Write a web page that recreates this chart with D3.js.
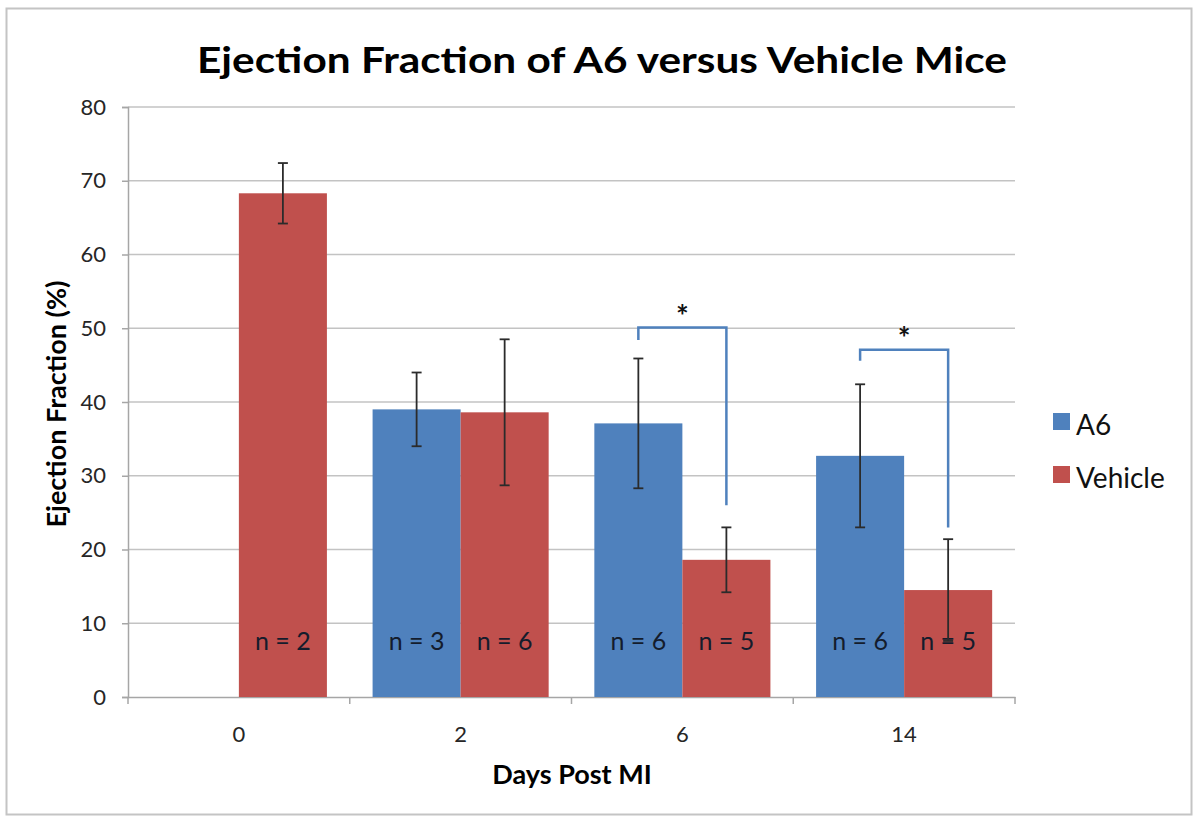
<!doctype html>
<html lang="en">
  <head>
    <meta charset="utf-8">
    <title>Ejection Fraction of A6 versus Vehicle Mice</title>
    <style>
      body{margin:0;background:#fff;}
      svg text{font-family: Lato, "Open Sans", Arial, sans-serif;}
    </style>
  </head>
  <body>
    <div class="holder"></div>
    <script src="https://cdn.jsdelivr.net/npm/d3@7"></script>
    <script>

      // ---- data ----
      var days     = ["0", "2", "6", "14"];
      var series   = ["A6", "Vehicle"];
      var a6Mean   = [null, 39.0, 37.1, 32.7];
      var a6Err    = [null, 5.0, 8.8, 9.7];
      var a6N      = [null, 3, 6, 6];
      var vehMean  = [68.3, 38.6, 18.6, 14.5];
      var vehErr   = [4.1, 9.9, 4.4, 6.9];
      var vehN     = [2, 6, 5, 5];
      var yTicks   = [0, 10, 20, 30, 40, 50, 60, 70, 80];

      // significance brackets (value units)
      var sigDays      = ["6", "14"];
      var sigTop       = [50.1, 47.1];
      var sigLeftEnd   = [48.4, 45.6];
      var sigRightEnd  = [26.0, 23.0];

      var colors = {A6: "#4f81bd", Vehicle: "#c0504d"};

      var W = 1200, H = 824;

      var svg = d3.select(".holder")
          .append("svg")
          .attr("width", W)
          .attr("height", H);

      svg.append("rect")
          .attr("width", W).attr("height", H)
          .attr("fill", "#fff");

      // chart frame
      svg.append("rect")
          .attr("x", 6.5).attr("y", 8.5)
          .attr("width", 1185).attr("height", 806)
          .attr("fill", "none")
          .attr("stroke", "#c4c4c4")
          .attr("stroke-width", 2);

      var x = d3.scaleBand().domain(days).range([128, 1015]);
      var y = d3.scaleLinear().domain([0, 80]).range([697, 107]);
      var barW = x.bandwidth() * 0.397;

      // gridlines
      svg.append("g").selectAll("line")
          .data(yTicks.slice(1))
          .enter().append("line")
          .attr("x1", 128).attr("x2", 1015)
          .attr("y1", function(d){ return y(d); })
          .attr("y2", function(d){ return y(d); })
          .attr("stroke", "#c3c3c3")
          .attr("stroke-width", 1.5);

      // y axis
      var yAxis = svg.append("g")
          .attr("transform", "translate(128,0)")
          .call(d3.axisLeft(y).tickValues(yTicks).tickSize(6).tickPadding(16));
      yAxis.select(".domain").attr("stroke", "#a6a6a6").attr("stroke-width", 1.5);
      yAxis.selectAll(".tick line").attr("stroke", "#a6a6a6").attr("stroke-width", 1.5);
      yAxis.selectAll(".tick text")
          .attr("font-family", "Lato, sans-serif")
          .attr("font-size", 22)
          .attr("fill", "#262626");

      // x axis
      var xAxis = svg.append("g")
          .attr("transform", "translate(0,697)")
          .call(d3.axisBottom(x).tickSize(0).tickPadding(29));
      xAxis.select(".domain").attr("stroke", "#a6a6a6").attr("stroke-width", 1.5);
      xAxis.selectAll(".tick text")
          .attr("font-family", "Lato, sans-serif")
          .attr("font-size", 22)
          .attr("fill", "#262626");
      // tick marks sit on the category boundaries
      svg.append("g").selectAll("line")
          .data(days.concat(["end"]))
          .enter().append("line")
          .attr("x1", function(d, i){ return i < days.length ? x(d) : x(days[days.length-1]) + x.bandwidth(); })
          .attr("x2", function(d, i){ return i < days.length ? x(d) : x(days[days.length-1]) + x.bandwidth(); })
          .attr("y1", 697).attr("y2", 704)
          .attr("stroke", "#a6a6a6")
          .attr("stroke-width", 1.5);

      // bars as flat records
      var bars = [];
      days.forEach(function(d, i){
        if (a6Mean[i] != null) bars.push({day: d, s: "A6", v: a6Mean[i], e: a6Err[i], n: a6N[i], off: x.bandwidth()/2 - barW});
        if (vehMean[i] != null) bars.push({day: d, s: "Vehicle", v: vehMean[i], e: vehErr[i], n: vehN[i], off: x.bandwidth()/2});
      });

      svg.append("g").selectAll("rect")
          .data(bars)
          .enter().append("rect")
          .attr("x", function(d){ return x(d.day) + d.off; })
          .attr("y", function(d){ return y(d.v); })
          .attr("width", barW)
          .attr("height", function(d){ return y(0) - y(d.v); })
          .attr("fill", function(d){ return colors[d.s]; });

      // n labels
      svg.append("g").selectAll("text")
          .data(bars)
          .enter().append("text")
          .attr("x", function(d){ return x(d.day) + d.off + barW/2; })
          .attr("y", y(0) - 47)
          .attr("text-anchor", "middle")
          .attr("font-size", 25)
          .attr("fill", "#141c2c")
          .text(function(d){ return "n = " + d.n; });

      // error bars
      var eb = svg.append("g").selectAll("g")
          .data(bars)
          .enter().append("g")
          .attr("stroke", "#2b2b2b")
          .attr("stroke-width", 1.8);
      eb.append("line")
          .attr("x1", function(d){ return x(d.day) + d.off + barW/2; })
          .attr("x2", function(d){ return x(d.day) + d.off + barW/2; })
          .attr("y1", function(d){ return y(d.v + d.e); })
          .attr("y2", function(d){ return y(d.v - d.e); });
      eb.append("line")
          .attr("x1", function(d){ return x(d.day) + d.off + barW/2 - 5; })
          .attr("x2", function(d){ return x(d.day) + d.off + barW/2 + 5; })
          .attr("y1", function(d){ return y(d.v + d.e); })
          .attr("y2", function(d){ return y(d.v + d.e); });
      eb.append("line")
          .attr("x1", function(d){ return x(d.day) + d.off + barW/2 - 5; })
          .attr("x2", function(d){ return x(d.day) + d.off + barW/2 + 5; })
          .attr("y1", function(d){ return y(d.v - d.e); })
          .attr("y2", function(d){ return y(d.v - d.e); });

      // significance brackets
      sigDays.forEach(function(d, i){
        var xl = x(d) + x.bandwidth()/2 - barW/2,
            xr = x(d) + x.bandwidth()/2 + barW/2;
        svg.append("path")
            .attr("d", "M" + xl + "," + y(sigLeftEnd[i]) + "V" + y(sigTop[i]) + "H" + xr + "V" + y(sigRightEnd[i]))
            .attr("fill", "none")
            .attr("stroke", "#4f81bd")
            .attr("stroke-width", 2.5);
        svg.append("text")
            .attr("x", (xl + xr)/2)
            .attr("y", y(sigTop[i]) - 1)
            .attr("text-anchor", "middle")
            .attr("font-size", 30)
            .attr("font-weight", "bold")
            .attr("fill", "#111")
            .text("*");
      });

      // legend
      var leg = svg.append("g").selectAll("g")
          .data(series)
          .enter().append("g")
          .attr("transform", function(d, i){ return "translate(1053," + (413 + i*53) + ")"; });
      leg.append("rect")
          .attr("width", 17).attr("height", 17)
          .attr("fill", function(d){ return colors[d]; });
      leg.append("text")
          .attr("x", 23).attr("y", 22)
          .attr("font-size", 28)
          .attr("fill", "#111")
          .text(function(d){ return d; });

      // titles
      svg.append("text")
          .attr("x", 602).attr("y", 73)
          .attr("text-anchor", "middle")
          .attr("font-size", 37)
          .attr("font-weight", "bold")
          .attr("textLength", 810)
          .attr("lengthAdjust", "spacingAndGlyphs")
          .attr("fill", "#000")
          .text("Ejection Fraction of A6 versus Vehicle Mice");

      svg.append("text")
          .attr("x", 572).attr("y", 784)
          .attr("text-anchor", "middle")
          .attr("font-size", 27)
          .attr("font-weight", "bold")
          .attr("fill", "#000")
          .text("Days Post MI");

      svg.append("text")
          .attr("transform", "translate(66,404) rotate(-90)")
          .attr("text-anchor", "middle")
          .attr("font-size", 27)
          .attr("font-weight", "bold")
          .attr("fill", "#000")
          .text("Ejection Fraction (%)");

    </script>
  </body>
</html>
